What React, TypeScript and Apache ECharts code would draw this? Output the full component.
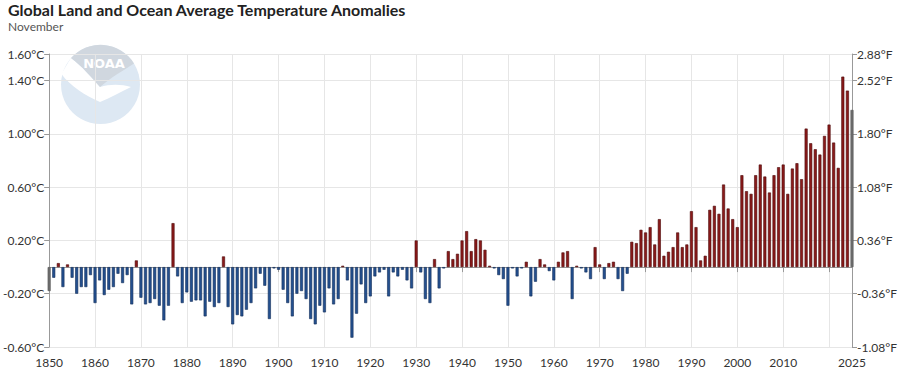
import React, { useEffect, useRef } from "react";
import * as echarts from "echarts";

const years: number[] = [];
for (let y = 1850; y <= 2025; y++) years.push(y);

const anomalies1850s = [-0.18, -0.08, 0.03, -0.15, 0.02, -0.08, -0.2, -0.15, -0.15, -0.06];
const anomalies1860s = [-0.27, -0.1, -0.21, -0.17, -0.15, -0.05, -0.12, -0.06, -0.28, 0.05];
const anomalies1870s = [-0.23, -0.28, -0.27, -0.24, -0.29, -0.4, -0.29, 0.33, -0.07, -0.27];
const anomalies1880s = [-0.19, -0.26, -0.25, -0.25, -0.37, -0.26, -0.3, -0.27, 0.08, -0.3];
const anomalies1890s = [-0.43, -0.36, -0.37, -0.32, -0.27, -0.16, -0.05, -0.14, -0.39, -0.01];
const anomalies1900s = [-0.02, -0.17, -0.27, -0.37, -0.2, -0.18, -0.24, -0.39, -0.43, -0.29];
const anomalies1910s = [-0.34, -0.16, -0.28, -0.24, 0.01, -0.1, -0.53, -0.35, -0.13, -0.27];
const anomalies1920s = [-0.22, -0.07, -0.04, -0.02, -0.22, -0.04, -0.07, -0.02, -0.1, -0.16];
const anomalies1930s = [0.2, -0.04, -0.24, -0.27, 0.06, -0.16, -0.01, 0.12, 0.06, 0.1];
const anomalies1940s = [0.2, 0.27, 0.12, 0.21, 0.2, 0.13, 0.01, -0.01, -0.06, -0.09];
const anomalies1950s = [-0.29, -0.01, -0.07, -0.01, 0.04, -0.22, -0.11, 0.06, 0.02, -0.03];
const anomalies1960s = [-0.1, 0.04, 0.11, 0.12, -0.24, 0.01, -0.01, -0.04, -0.09, 0.15];
const anomalies1970s = [0.02, -0.09, 0.03, 0.04, -0.09, -0.18, -0.05, 0.19, 0.18, 0.28];
const anomalies1980s = [0.26, 0.3, 0.17, 0.36, 0.085, 0.115, 0.15, 0.26, 0.15, 0.17];
const anomalies1990s = [0.42, 0.3, 0.05, 0.085, 0.43, 0.46, 0.4, 0.62, 0.44, 0.36];
const anomalies2000s = [0.3, 0.69, 0.57, 0.55, 0.69, 0.77, 0.68, 0.56, 0.69, 0.75];
const anomalies2010s = [0.77, 0.55, 0.74, 0.78, 0.66, 1.04, 0.93, 0.885, 0.845, 0.985];
const anomalies2020s = [1.07, 0.935, 0.745, 1.43, 1.325, 1.18];

const anomalies: number[] = [
  ...anomalies1850s, ...anomalies1860s, ...anomalies1870s, ...anomalies1880s,
  ...anomalies1890s, ...anomalies1900s, ...anomalies1910s, ...anomalies1920s,
  ...anomalies1930s, ...anomalies1940s, ...anomalies1950s, ...anomalies1960s,
  ...anomalies1970s, ...anomalies1980s, ...anomalies1990s, ...anomalies2000s,
  ...anomalies2010s, ...anomalies2020s,
];

const titleText = "Global Land and Ocean Average Temperature Anomalies";
const subtitleText = "November";

const FONT = "Lato, 'Noto Sans', sans-serif";

const CAP_PATH = "M71,58 A39.5,39.5 0 0 1 134,63.5 C124,70 110,78 100,87 C92,78 82,66 71,58 Z";
const GULL_PATH =
  "M61.5,74 C66,66 69,61 71,58 C82,66 92,78 100,87 C110,84 121,84 131,87 C120,92 110,98 100,102 C86,96 70,86 61.5,74 Z";

let registered = false;
function registerLogo() {
  if (registered) return;
  registered = true;
  echarts.graphic.registerShape("noaaCap", (echarts.graphic as any).extendPath(CAP_PATH, {}));
  echarts.graphic.registerShape("noaaGull", (echarts.graphic as any).extendPath(GULL_PATH, {}));
}

export default function App() {
  const ref = useRef<HTMLDivElement>(null);
  useEffect(() => {
    if (!ref.current) return;
    registerLogo();
    const chart = echarts.init(ref.current, undefined, { renderer: "svg" });
    const last = years.length - 1;
    const data = years.map((y, i) => {
      const v = anomalies[i];
      let fill = v >= 0 ? "#8a1a1a" : "#24508f";
      let border = v >= 0 ? "#4a0606" : "#102c58";
      if (i === 0 || i === last) {
        fill = "#6e6e6e";
        border = "#555555";
      }
      return { value: [y, v], itemStyle: { color: fill, borderColor: border, borderWidth: 0.6 } };
    });
    chart.setOption({
      animation: false,
      backgroundColor: "#ffffff",
      textStyle: { fontFamily: FONT },
      title: {
        text: titleText,
        subtext: subtitleText,
        left: 8,
        top: 1,
        padding: 0,
        itemGap: 3,
        textStyle: { fontSize: 16, fontWeight: "bold", color: "#222", fontFamily: FONT },
        subtextStyle: { fontSize: 12, color: "#555", fontFamily: FONT },
      },
      graphic: [
        { type: "circle", z: -10, shape: { cx: 100.5, cy: 84.5, r: 39.5 }, style: { fill: "#dde8f3" }, silent: true },
        { type: "noaaGull", z: -10, x: 0, y: 0, style: { fill: "#ffffff" }, silent: true },
        { type: "noaaCap", z: -10, x: 0, y: 0, style: { fill: "#d0d7df" }, silent: true },
        {
          type: "text", z: -10, x: 104, y: 63, silent: true,
          style: { text: "NOAA", fill: "#ffffff", font: "bold 13px 'DejaVu Sans'", align: "center", verticalAlign: "middle" },
        },
      ],
      grid: { left: 48.5, right: 48, top: 54, bottom: 25, containLabel: false },
      xAxis: {
        type: "value",
        min: 1850,
        max: 2025,
        interval: 10,
        axisLine: { show: true, lineStyle: { color: "#999" } },
        axisTick: { show: true, length: 5, lineStyle: { color: "#999" } },
        splitLine: { show: true, lineStyle: { color: "#e6e6e6" } },
        axisLabel: {
          color: "#333",
          fontSize: 12,
          margin: 9,
          fontFamily: FONT,
          showMinLabel: true,
          showMaxLabel: true,
          formatter: (v: number) => (v === 2020 ? "" : String(v)),
        },
      },
      yAxis: [
        {
          type: "value",
          min: -0.6,
          max: 1.6,
          interval: 0.4,
          position: "left",
          axisLine: { show: true, lineStyle: { color: "#999" } },
          axisTick: { show: true, length: 5, lineStyle: { color: "#999" } },
          splitLine: { show: true, lineStyle: { color: "#e6e6e6" } },
          axisLabel: {
            color: "#333",
            fontSize: 12,
            margin: 5,
            fontFamily: FONT,
            formatter: (v: number) => v.toFixed(2) + "°C",
          },
        },
        {
          type: "value",
          min: -1.08,
          max: 2.88,
          interval: 0.72,
          position: "right",
          axisLine: { show: true, lineStyle: { color: "#999" } },
          axisTick: { show: true, length: 5, lineStyle: { color: "#999" } },
          splitLine: { show: false },
          axisLabel: {
            color: "#333",
            fontSize: 12,
            margin: 5,
            fontFamily: FONT,
            formatter: (v: number) => v.toFixed(2) + "°F",
          },
        },
      ],
      series: [
        {
          type: "bar",
          xAxisIndex: 0,
          yAxisIndex: 0,
          barWidth: 3,
          clip: false,
          data,
        },
      ],
    });
    return () => chart.dispose();
  }, []);
  return (
    <div
      ref={ref}
      style={{ position: "fixed", left: 0, top: 0, width: 900, height: 372, background: "#fff" }}
    />
  );
}
